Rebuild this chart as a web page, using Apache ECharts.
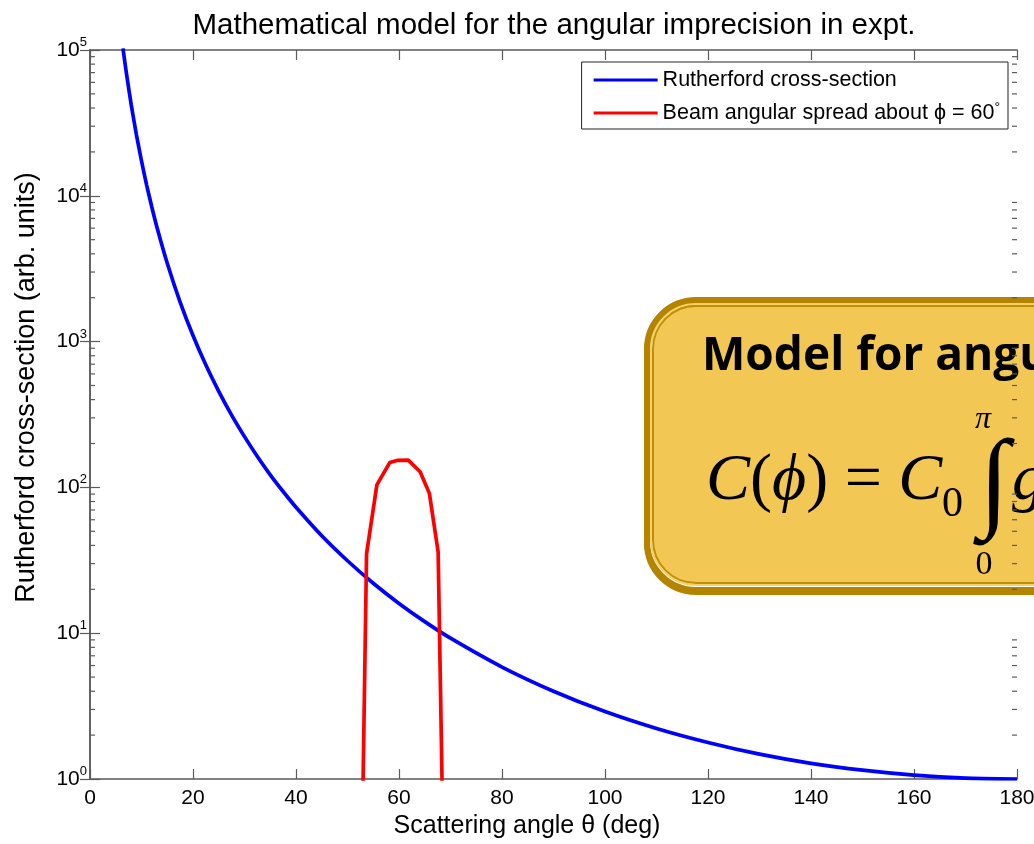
<!DOCTYPE html>
<html>
<head>
<meta charset="utf-8">
<script src="https://cdn.jsdelivr.net/npm/echarts@6/dist/echarts.min.js"></script>
<style>
  html, body { margin: 0; padding: 0; background: #fff; }
  #chart { width: 1034px; height: 844px; }
</style>
</head>
<body>
<div id="chart"></div>
<script>
// scattering angle (deg) and Rutherford cross-section
const thetaBlue = [6.4, 7, 8, 9, 10, 11, 12, 13, 15, 17.5, 20, 22.5, 25, 27.5, 30, 32.5, 35, 37.5, 40, 45, 50, 55, 60, 65, 70, 80, 90, 100, 110, 120, 130, 140, 150, 160, 170, 180];
const rutherford = [103000, 72000, 42200, 26400, 17330, 11850, 8380, 6090, 3445, 1867, 1100, 690, 456, 313, 223, 163, 122, 93.7, 73.1, 46.6, 31.4, 22.0, 16.0, 12.0, 9.24, 5.86, 4.0, 2.90, 2.22, 1.78, 1.48, 1.28, 1.149, 1.063, 1.015, 1.0];

// beam spread about phi = 60 deg (red curve)
const thetaRed = [52.9, 53.7, 55.7, 58.2, 59.6, 61.8, 64.1, 65.9, 67.6, 68.5];
const beamSpread = [0.5, 35, 104, 148, 153, 154, 128, 91, 36, 0.5];

const decades = [1, 10, 100, 1000, 10000];
const minorMult = [2, 3, 4, 5, 6, 7, 8, 9];

const FONT = '"Liberation Sans", Arial, Helvetica, sans-serif';
const SERIF = '"Liberation Serif", "Times New Roman", "DejaVu Serif", serif';
const AXIS_COLOR = '#5a5a5a';

const minorTicks = [];
decades.forEach(d => minorMult.forEach(m => minorTicks.push([m * d])));

const chart = echarts.init(document.getElementById('chart'));

chart.setOption({
  backgroundColor: '#fff',
  animation: false,
  title: {
    text: 'Mathematical model for the angular imprecision in expt.',
    left: 549,
    top: 6,
    textAlign: 'center',
    textStyle: { fontFamily: FONT, fontSize: 29.5, fontWeight: 'normal', color: '#000' }
  },
  legend: {
    data: ['Rutherford cross-section', 'Beam angular spread about ϕ = 60°'],
    orient: 'vertical',
    right: 26,
    top: 62,
    padding: [7, 8, 5, 12],
    icon: 'rect',
    itemWidth: 64,
    itemHeight: 3,
    itemGap: 10,
    borderColor: '#222',
    borderWidth: 1,
    backgroundColor: '#fff',
    formatter: function (name) {
      if (name.indexOf('Beam') === 0) return '{t|Beam angular spread about ϕ = 60}{s|°}';
      return '{t|' + name + '}';
    },
    textStyle: {
      fontFamily: FONT,
      fontSize: 21.5,
      color: '#000',
      rich: {
        t: { fontFamily: FONT, fontSize: 21.5, lineHeight: 24, color: '#000' },
        s: { fontFamily: FONT, fontSize: 14, lineHeight: 10, verticalAlign: 'top', color: '#000' }
      }
    }
  },
  grid: { left: 90, right: 17, top: 50, bottom: 65, outerBoundsMode: 'none' },
  xAxis: [
    {
      type: 'value',
      min: 0,
      max: 180,
      interval: 20,
      name: 'Scattering angle θ (deg)',
      nameLocation: 'middle',
      nameGap: 34,
      nameTextStyle: { fontFamily: FONT, fontSize: 25, color: '#000', padding: [0, 53, 0, 0] },
      axisLine: { show: true, lineStyle: { color: AXIS_COLOR, width: 1.5 } },
      axisTick: { show: true, inside: true, length: 10, lineStyle: { color: AXIS_COLOR, width: 1.2 } },
      axisLabel: { fontFamily: FONT, fontSize: 21, color: '#000', margin: 9 },
      splitLine: { show: false }
    },
    {
      type: 'value',
      position: 'top',
      min: 0,
      max: 180,
      interval: 20,
      axisLine: { show: true, lineStyle: { color: AXIS_COLOR, width: 1.5 } },
      axisTick: { show: true, inside: true, length: 10, lineStyle: { color: AXIS_COLOR, width: 1.2 } },
      axisLabel: { show: false },
      splitLine: { show: false }
    }
  ],
  yAxis: [
    {
      type: 'log',
      logBase: 10,
      min: 1,
      max: 100000,
      splitNumber: 5,
      name: 'Rutherford cross-section (arb. units)',
      nameLocation: 'middle',
      nameGap: 50,
      nameTextStyle: { fontFamily: FONT, fontSize: 27, color: '#000', padding: [0, 0, 0, 54] },
      axisLine: { show: true, lineStyle: { color: AXIS_COLOR, width: 1.5 } },
      axisTick: { show: true, inside: true, length: 10, lineStyle: { color: AXIS_COLOR, width: 1.2 } },
      axisLabel: {
        margin: 3,
        formatter: function (v) {
          return '{b|10}{s|' + Math.round(Math.log10(v)) + '}';
        },
        rich: {
          b: { fontFamily: FONT, fontSize: 21, lineHeight: 28, color: '#000' },
          s: { fontFamily: FONT, fontSize: 13, lineHeight: 13, verticalAlign: 'top', color: '#000' }
        }
      },
      splitLine: { show: false }
    },
    {
      type: 'log',
      logBase: 10,
      position: 'right',
      min: 1,
      max: 100000,
      splitNumber: 5,
      axisLine: { show: true, lineStyle: { color: AXIS_COLOR, width: 1.5 } },
      axisTick: { show: true, inside: true, length: 10, lineStyle: { color: AXIS_COLOR, width: 1.2 } },
      axisLabel: { show: false },
      splitLine: { show: false }
    }
  ],
  series: [
    {
      name: 'Rutherford cross-section',
      type: 'line',
      data: thetaBlue.map((t, i) => [t, rutherford[i]]),
      symbol: 'none',
      smooth: 0.2,
      lineStyle: { color: '#0000ff', width: 3.7 },
      itemStyle: { color: '#0000ff' },
      z: 3
    },
    {
      name: 'Beam angular spread about ϕ = 60°',
      type: 'line',
      data: thetaRed.map((t, i) => [t, beamSpread[i]]),
      symbol: 'none',
      lineStyle: { color: '#ff0000', width: 3.7 },
      itemStyle: { color: '#ff0000' },
      z: 4
    },
    {
      // minor log ticks on the left and right frame
      type: 'custom',
      silent: true,
      data: minorTicks,
      encode: { y: 0 },
      renderItem: function (params, api) {
        const v = api.value(0);
        const l = api.coord([0, v]);
        const r = api.coord([180, v]);
        const st = { stroke: AXIS_COLOR, lineWidth: 1.2 };
        return {
          type: 'group',
          children: [
            { type: 'line', shape: { x1: l[0], y1: l[1], x2: l[0] + 5, y2: l[1] }, style: st },
            { type: 'line', shape: { x1: r[0], y1: r[1], x2: r[0] - 5, y2: r[1] }, style: st }
          ]
        };
      },
      z: 2
    }
  ],
  graphic: [
    {
      type: 'group',
      left: 644,
      top: 297,
      z: 100,
      children: [
        // outer gold frame (slightly heavier at the bottom)
        { type: 'rect', shape: { x: 3, y: 6, width: 500, height: 289, r: 49 }, style: { fill: 'none', stroke: '#b48400', lineWidth: 6 } },
        { type: 'rect', shape: { x: 3, y: 3, width: 500, height: 290, r: 49 }, style: { fill: 'none', stroke: '#b48400', lineWidth: 6 } },
        { type: 'rect', shape: { x: 7, y: 7, width: 492, height: 281, r: 45 }, style: { fill: 'none', stroke: '#f6d064', lineWidth: 2 } },
        { type: 'rect', shape: { x: 9, y: 9, width: 488, height: 277, r: 43 }, style: { fill: 'rgba(241,193,65,0.9)', stroke: '#c08f0a', lineWidth: 2 } },
        {
          type: 'text',
          x: 58,
          y: 60,
          style: {
            text: 'Model for angular imprecision',
            fontFamily: '"Open Sans", Lato, sans-serif',
            fontWeight: 'bold',
            fontSize: 46,
            fill: '#000',
            verticalAlign: 'middle'
          }
        },
        {
          type: 'text',
          x: 62,
          y: 218,
          style: {
            text: '{i|C}{u|(}{i|ϕ}{u|) = }{i|C}',
            verticalAlign: 'bottom',
            rich: {
              i: { fontFamily: SERIF, fontStyle: 'italic', fontSize: 66, fill: '#000' },
              u: { fontFamily: SERIF, fontSize: 66, fill: '#000' }
            }
          }
        },
        { type: 'text', x: 298, y: 229, style: { text: '0', fontFamily: SERIF, fontSize: 42, fill: '#000', verticalAlign: 'bottom' } },
        { type: 'text', x: 350, y: 190, style: { text: '∫', fontFamily: SERIF, fontSize: 110, fill: '#000', align: 'center', verticalAlign: 'middle' } },
        { type: 'text', x: 339, y: 123, style: { text: 'π', fontFamily: SERIF, fontStyle: 'italic', fontSize: 32, fill: '#000', align: 'center', verticalAlign: 'middle' } },
        { type: 'text', x: 340, y: 268, style: { text: '0', fontFamily: SERIF, fontSize: 34, fill: '#000', align: 'center', verticalAlign: 'middle' } },
        { type: 'text', x: 368, y: 218, style: { text: 'g', fontFamily: SERIF, fontStyle: 'italic', fontSize: 66, fill: '#000', verticalAlign: 'bottom' } }
      ]
    }
  ]
});
</script>
</body>
</html>
